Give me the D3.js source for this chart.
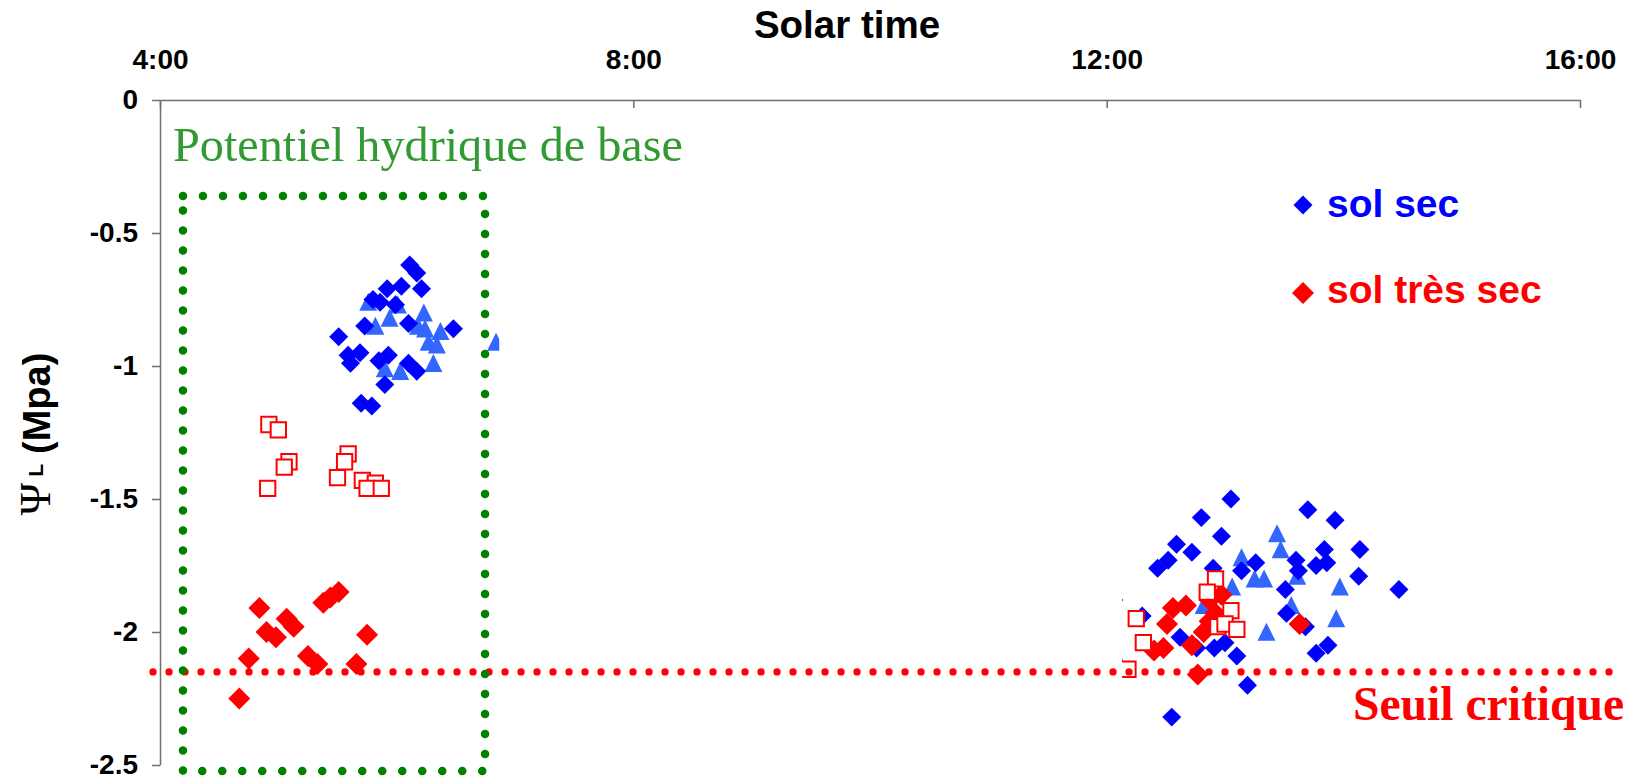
<!DOCTYPE html>
<html><head><meta charset="utf-8">
<script src="https://cdn.jsdelivr.net/npm/d3@7"></script>
<style>
html,body{margin:0;padding:0;background:#fff;}
svg{display:block;}
</style></head><body>
<svg id="chart" width="1637" height="779"></svg>
<script>
// ---- axis ticks ----
const xTicks = [4, 8, 12, 16];
const xTickLabels = ["4:00", "8:00", "12:00", "16:00"];
const yTicks = [0, -0.5, -1, -1.5, -2, -2.5];
const yTickLabels = ["0", "-0.5", "-1", "-1.5", "-2", "-2.5"];

// ---- series: solar time (h) and leaf water potential (MPa) ----
// sol sec, blue diamonds
const solSecTime = [6.11,6.17,6.21,6.04,5.92,5.80,5.86,5.99,6.10,5.73,6.48,5.51,5.69,5.59,5.61,5.85,5.93,6.10,6.17,5.90,5.70,5.79,
  13.05,12.80,13.70,13.93,12.97,12.59,12.72,14.14,12.52,12.43,13.84,13.86,13.77,13.60,13.62,13.26,13.14,12.90,14.13,14.47,13.51,13.52,13.68,12.30,13.87,13.77,12.62,12.91,13.00,13.10,13.19,12.55,12.76,12.06];
const solSecPsi = [-0.62,-0.65,-0.71,-0.70,-0.71,-0.75,-0.76,-0.77,-0.84,-0.85,-0.86,-0.89,-0.95,-0.96,-0.99,-0.98,-0.96,-0.99,-1.02,-1.07,-1.14,-1.15,
  -1.50,-1.57,-1.54,-1.58,-1.64,-1.67,-1.70,-1.69,-1.73,-1.76,-1.69,-1.74,-1.75,-1.73,-1.77,-1.74,-1.77,-1.76,-1.79,-1.84,-1.84,-1.93,-1.98,-1.94,-2.05,-2.08,-2.02,-2.06,-2.04,-2.09,-2.20,-2.32,-2.06,-1.88];
// sol sec (second set), light blue triangles
const solSec2Time = [5.76,6.01,5.94,5.82,6.23,6.18,6.24,6.37,6.27,6.34,6.31,5.90,6.03,6.84,
  13.44,13.47,13.14,13.25,13.33,13.61,13.97,13.06,13.56,13.94,13.35,12.82,12.07];
const solSec2Psi = [-0.77,-0.78,-0.83,-0.86,-0.81,-0.86,-0.87,-0.88,-0.92,-0.93,-1.00,-1.02,-1.03,-0.92,
  -1.64,-1.70,-1.73,-1.81,-1.81,-1.80,-1.84,-1.84,-1.91,-1.96,-2.01,-1.91,-2.09];
// sol très sec, red diamonds
const solTresSecTime = [4.84,4.90,4.98,5.07,5.13,4.75,5.25,5.33,5.38,5.44,5.51,5.75,5.66,4.67,
  12.56,12.67,12.51,12.40,12.48,12.72,12.82,12.87,12.92,12.97,12.87,13.63,12.77];
const solTresSecPsi = [-1.91,-2.00,-2.02,-1.95,-1.98,-2.10,-2.09,-2.12,-1.89,-1.87,-1.85,-2.01,-2.12,-2.25,
  -1.91,-1.90,-1.97,-2.07,-2.06,-2.05,-2.00,-1.96,-1.93,-1.86,-1.88,-1.97,-2.16];
// sol très sec (second set), red open squares
const solTresSec2Time = [4.92,5.00,5.09,5.05,4.91,5.59,5.56,5.50,5.71,5.82,5.75,5.87,
  12.92,12.85,12.25,13.05,12.94,13.00,13.10,12.31,12.18];
const solTresSec2Psi = [-1.22,-1.24,-1.36,-1.38,-1.46,-1.33,-1.36,-1.42,-1.43,-1.44,-1.46,-1.46,
  -1.80,-1.85,-1.95,-1.92,-1.98,-1.97,-1.99,-2.04,-2.14];

// ---- annotations ----
const seuilCritique = -2.15;
const seuilSpan = [3.941, 16.249];
const baseBoxTime = [4.194, 6.747];
const baseBoxPsi = [-0.361, -2.523];
const maskTime = [6.867, 12.13];

const legendLabels = ["sol sec", "sol très sec"];
const legendColors = ["#0000ff", "#ff0000"];

// ---- scales ----
const x = d3.scaleLinear().domain([4, 16]).range([160, 1580]);
const y = d3.scaleLinear().domain([-2.5, 0]).range([765, 100]);

const svg = d3.select("#chart");
svg.append("rect").attr("width", 1637).attr("height", 779).attr("fill", "#fff");

const sans = "'Liberation Sans', Arial, Helvetica, sans-serif";
const serif = "'Liberation Serif', 'Times New Roman', Times, serif";

// isosceles triangle as tall as it is wide, centred on its centroid
const symbolTallTriangle = {
  draw(ctx, size) {
    const s = Math.sqrt(2 * size);
    ctx.moveTo(0, -2 * s / 3);
    ctx.lineTo(s / 2, s / 3);
    ctx.lineTo(-s / 2, s / 3);
    ctx.closePath();
  }
};

function plot(ts, ps, symbol, rot, style) {
  const g = svg.append("g");
  const sel = g.selectAll("path").data(d3.zip(ts, ps)).join("path")
    .attr("d", symbol)
    .attr("transform", d => `translate(${x(d[0])},${y(d[1])})` + (rot ? " rotate(45)" : ""));
  Object.entries(style).forEach(([k, v]) => sel.attr(k, v));
}

plot(solSec2Time, solSec2Psi, d3.symbol().type(symbolTallTriangle).size(162)(), false, {fill: "#3366ff"});
plot(solSecTime, solSecPsi, d3.symbol().type(d3.symbolSquare).size(180)(), true, {fill: "#0000ff"});
plot(solTresSecTime, solTresSecPsi, d3.symbol().type(d3.symbolSquare).size(242)(), true, {fill: "#ff0000"});
plot(solTresSec2Time, solTresSec2Psi, d3.symbol().type(d3.symbolSquare).size(234)(), false, {fill: "#ffffff", stroke: "#ff0000", "stroke-width": 2});

// white box hiding the midday gap
svg.append("rect")
  .attr("x", x(maskTime[0])).attr("y", y(0) + 1)
  .attr("width", x(maskTime[1]) - x(maskTime[0]))
  .attr("height", y(-2.5) - y(0) - 2)
  .attr("fill", "#fff");

// critical threshold
svg.append("line")
  .attr("x1", x(seuilSpan[0])).attr("x2", x(seuilSpan[1]))
  .attr("y1", y(seuilCritique)).attr("y2", y(seuilCritique))
  .attr("stroke", "#ff0000").attr("stroke-width", 7.3)
  .attr("stroke-dasharray", "0 16").attr("stroke-linecap", "round");

// predawn box
svg.append("rect")
  .attr("x", x(baseBoxTime[0])).attr("y", y(baseBoxPsi[0]))
  .attr("width", x(baseBoxTime[1]) - x(baseBoxTime[0]))
  .attr("height", y(baseBoxPsi[1]) - y(baseBoxPsi[0]))
  .attr("fill", "none").attr("stroke", "#008000").attr("stroke-width", 8.5)
  .attr("stroke-dasharray", "0 20").attr("stroke-linecap", "round");

// ---- axes ----
const axisColor = "#6e6e6e";
const gx = svg.append("g").attr("transform", `translate(0,${y(0)})`)
  .call(d3.axisTop(x).tickValues(xTicks).tickFormat((d, i) => xTickLabels[i])
    .tickSize(-8).tickSizeOuter(0).tickPadding(31));
const gy = svg.append("g").attr("transform", `translate(${x(4)},0)`)
  .call(d3.axisLeft(y).tickValues(yTicks).tickFormat((d, i) => yTickLabels[i])
    .tickSize(8).tickSizeOuter(0).tickPadding(14));
[gx, gy].forEach(g => {
  g.selectAll("path,line").attr("stroke", axisColor).attr("stroke-width", 1.5);
  g.selectAll("text").attr("fill", "#000").style("font-family", sans)
    .style("font-weight", "bold").style("font-size", "28px");
});

// ---- titles ----
svg.append("text").attr("x", 847).attr("y", 38).attr("text-anchor", "middle")
  .style("font-family", sans).style("font-weight", "bold").style("font-size", "38.5px")
  .text("Solar time");

const yl = svg.append("text").attr("transform", "translate(50,434) rotate(-90)")
  .attr("text-anchor", "middle").style("font-family", sans).style("font-weight", "bold")
  .style("font-size", "38px").attr("fill", "#000");
yl.append("tspan").style("font-family", serif).style("font-weight", "normal").style("font-size", "44px").text("Ψ");
yl.append("tspan").style("font-size", "21px").attr("dx", 6).attr("dy", -7).text("L");
yl.append("tspan").attr("dx", 10).attr("dy", 7).text("(Mpa)");

svg.append("text").attr("x", 173).attr("y", 161)
  .style("font-family", serif).style("font-size", "48.2px").attr("fill", "#339933")
  .text("Potentiel hydrique de base");

svg.append("text").attr("x", 1353).attr("y", 720)
  .style("font-family", serif).style("font-weight", "bold").style("font-size", "47.6px").attr("fill", "#ff0000")
  .text("Seuil critique");

// ---- legend ----
const legendY = [205, 293];
const legendSym = [d3.symbol().type(d3.symbolSquare).size(180)(), d3.symbol().type(d3.symbolSquare).size(242)()];
legendLabels.forEach((lab, i) => {
  svg.append("path").attr("d", legendSym[i]).attr("transform", `translate(1303,${legendY[i]}) rotate(45)`)
    .attr("fill", legendColors[i]);
  svg.append("text").attr("x", 1327).attr("y", legendY[i] + (i === 0 ? 12 : 10))
    .style("font-family", sans).style("font-weight", "bold").style("font-size", "39px")
    .attr("fill", legendColors[i]).text(lab);
});
</script></body></html>
